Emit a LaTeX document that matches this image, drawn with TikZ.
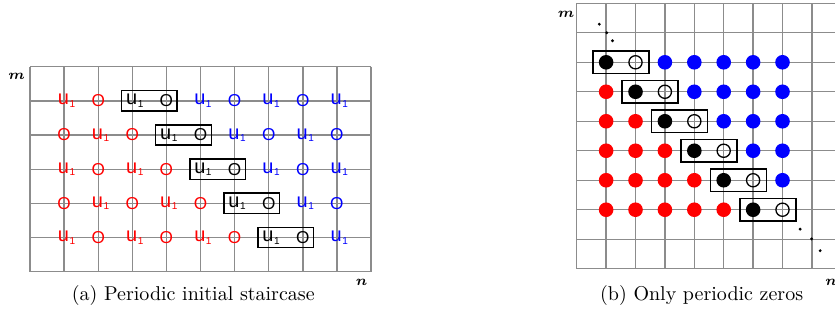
\documentclass[tikz,border=0pt]{standalone}
\usepackage{amsmath}
\usepackage{fontspec}
\usepackage{tikz}
\newfontfamily\gridfont{Liberation Sans}
\newcommand{\uone}{u\kern0.3pt\raisebox{-1.2pt}{\fontsize{5}{5}\selectfont 1}}
\tikzstyle{gridline} = [draw=black!45, line width=0.7pt]
\tikzstyle{uentry} = [inner sep=0pt, xshift=1.2pt, font=\gridfont\fontsize{10}{10}\selectfont]
\tikzstyle{oentry} = [inner sep=0pt, font=\gridfont\fontsize{8.6}{9}\selectfont]
\tikzstyle{pairbox} = [rectangle, draw=black, line width=0.75pt, minimum width=27.8pt, minimum height=10.15pt]
\tikzstyle{dot} = [circle, inner sep=0pt, minimum size=7.3pt]
\tikzstyle{reddot} = [dot, fill=red]
\tikzstyle{bluedot} = [dot, fill=blue]
\tikzstyle{blackdot} = [dot, fill=black]
\tikzstyle{opendot} = [dot, draw=black, line width=0.65pt, minimum size=6.6pt]
\tikzstyle{axislabel} = [inner sep=0pt, font=\fontsize{7.2}{8}\selectfont]
\tikzstyle{caption} = [inner sep=0pt, font=\fontsize{10}{12}\selectfont]

\begin{document}
\begin{tikzpicture}[x=0.5pt, y=-0.5pt]
        \useasboundingbox (0,0) rectangle (835,322);

        % (a) periodic initial staircase
        \begin{scope}[shift={(30,66.7)}, x=17.05pt, y=-17.085pt]
            \foreach \c in {0,...,10} \draw [gridline] (\c,0) -- (\c,6);
            \foreach \r in {0,...,6} \draw [gridline] (0,\r) -- (10,\r);
            \foreach \r in {1,...,5} {
                \foreach \c in {1,...,9} {
                    \pgfmathtruncatemacro\kind{mod(\c+\r,2)}
                    \ifnum\c<\numexpr\r+2\relax \def\tone{red}\else
                        \ifnum\c>\numexpr\r+3\relax \def\tone{blue}\else \def\tone{black}\fi\fi
                    \ifnum\kind=0
                        \node (a-\r-\c) [uentry, text=\tone] at (\c,\r) {\uone};
                    \else
                        \node (a-\r-\c) [oentry, text=\tone] at (\c,\r) {O};
                    \fi
                }
                \node (abox-\r) [pairbox] at (\r+2.5,\r) {};
            }
        \end{scope}
        \node (ma) [axislabel] at (16.7,76.7) {$\boldsymbol{m}$};
        \node (na) [axislabel] at (361.7,282.7) {$\boldsymbol{n}$};
        \node (capa) [caption] at (193.3,295) {(a) Periodic initial staircase};

        % (b) only periodic zeros
        \begin{scope}[shift={(576.7,3.3)}, x=14.7pt, y=-14.745pt]
            \foreach \c in {0,...,9} \draw [gridline] (\c,0) -- (\c,9);
            \foreach \r in {0,...,9} \draw [gridline] (0,\r) -- (9.5,\r);
            \foreach \r in {2,...,7} {
                \foreach \c in {1,...,7} {
                    \ifnum\c<\numexpr\r-1\relax \def\look{reddot}\else
                        \ifnum\c=\numexpr\r-1\relax \def\look{blackdot}\else
                            \ifnum\c=\r \def\look{opendot}\else \def\look{bluedot}\fi\fi\fi
                    \node (b-\r-\c) [\look] at (\c,\r) {};
                }
                \node (bbox-\r) [pairbox, minimum width=28pt, minimum height=11.15pt] at (\r-0.5,\r) {};
            }
            % dots along the diagonal
            \foreach \p in {(0.77,0.71),(1.02,1.0),(1.22,1.27),(7.6,7.66),(7.99,7.99),(8.28,8.39)}
                \fill \p circle (0.8pt);
        \end{scope}
        \node (mb) [axislabel] at (566,14) {$\boldsymbol{m}$};
        \node (nb) [axislabel] at (831,282.7) {$\boldsymbol{n}$};
        \node (capb) [caption] at (701.7,295) {(b) Only periodic zeros};
\end{tikzpicture}
\end{document}
